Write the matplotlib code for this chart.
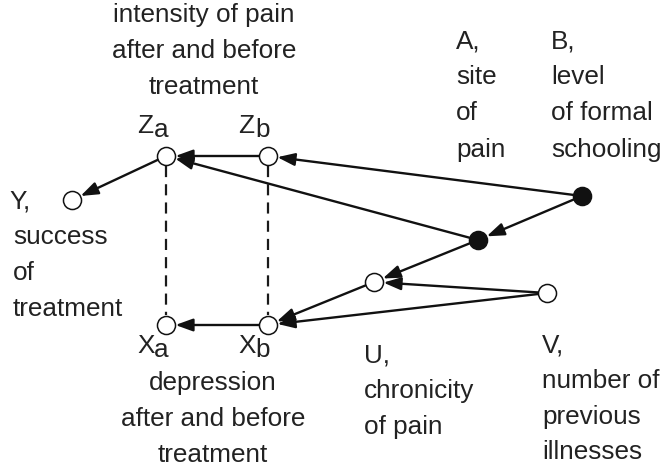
import matplotlib
matplotlib.use("Agg")
import matplotlib.pyplot as plt

plt.rcParams['font.family'] = ['Liberation Sans', 'DejaVu Sans']

# Nodes (pixel coordinates in the 664x470 canvas)
node_names = ["Za", "Zb", "Y", "Xa", "Xb", "A", "B", "U", "V"]
node_x = [166, 268, 72, 166, 268, 478, 582, 374, 547]
node_y = [156, 156, 200, 325, 325, 240, 196, 282, 293]
node_filled = [False, False, False, False, False, True, True, False, False]

# Directed edges (source -> target)
edges = [("Zb", "Za"), ("B", "Zb"), ("A", "Za"), ("Za", "Y"),
         ("B", "A"), ("A", "U"), ("V", "U"), ("U", "Xb"),
         ("V", "Xb"), ("Xb", "Xa")]
# Dashed, undirected links
dashed = [("Za", "Xa"), ("Zb", "Xb")]

pos = {n: (x, y) for n, x, y in zip(node_names, node_x, node_y)}

fig = plt.figure(figsize=(6.64, 4.70), dpi=100)
ax = fig.add_axes([0, 0, 1, 1])
ax.set_xlim(0, 664)
ax.set_ylim(470, 0)
ax.axis('off')

r_pt = 9 / 1.389

for a, b in dashed:
    (x1, y1), (x2, y2) = pos[a], pos[b]
    ax.plot([x1, x2], [y1 + 10, y2 - 10], color='#1a1a1a', lw=1.6,
            dashes=(5, 3.2), zorder=1)

for a, b in edges:
    ax.annotate("", xy=pos[b], xytext=pos[a],
                arrowprops=dict(arrowstyle='-|>,head_length=1.05,head_width=0.38',
                                color='#111111', lw=1.7,
                                shrinkA=r_pt, shrinkB=r_pt + 0.3),
                zorder=2)

for n, x, y, f in zip(node_names, node_x, node_y, node_filled):
    ax.plot(x, y, 'o', ms=13, mfc='#111111' if f else 'white',
            mec='#111111', mew=1.1, zorder=3)

fs = 18.8
tc = '#222222'

def t(x, y, s, ha='left', size=fs, va='center'):
    ax.text(x, y, s, ha=ha, va=va, fontsize=size, color=tc)

# top label
for yy, s in zip([15, 51, 87], ["intensity of pain", "after and before", "treatment"]):
    t(204, yy, s, ha='center')

# Z labels
t(137, 133, "Z", va='baseline'); t(154, 137, "a", va='baseline')
t(238, 133, "Z", va='baseline'); t(255, 137, "b", va='baseline')
# X labels
t(137, 353, "X", va='baseline'); t(154, 357, "a", va='baseline')
t(238, 353, "X", va='baseline'); t(255, 357, "b", va='baseline')

# Y
t(9, 201, "Y,")
for yy, s in zip([237, 273, 309], ["success", "of", "treatment"]):
    t(13, yy, s)

# A
for yy, s in zip([41, 77, 113, 150], ["A,", "site", "of", "pain"]):
    t(456, yy, s)
# B
for yy, s in zip([41, 77, 113, 150], ["B,", "level", "of formal", "schooling"]):
    t(551, yy, s)

# bottom label
for yy, s in zip([383, 419, 455], ["depression", "after and before", "treatment"]):
    t(213, yy, s, ha='center')

# U
for yy, s in zip([355, 391, 427], ["U,", "chronicity", "of pain"]):
    t(364, yy, s)
# V
for yy, s in zip([345, 381, 417, 452], ["V,", "number of", "previous", "illnesses"]):
    t(542, yy, s)

fig.savefig("out.png", dpi=100)
